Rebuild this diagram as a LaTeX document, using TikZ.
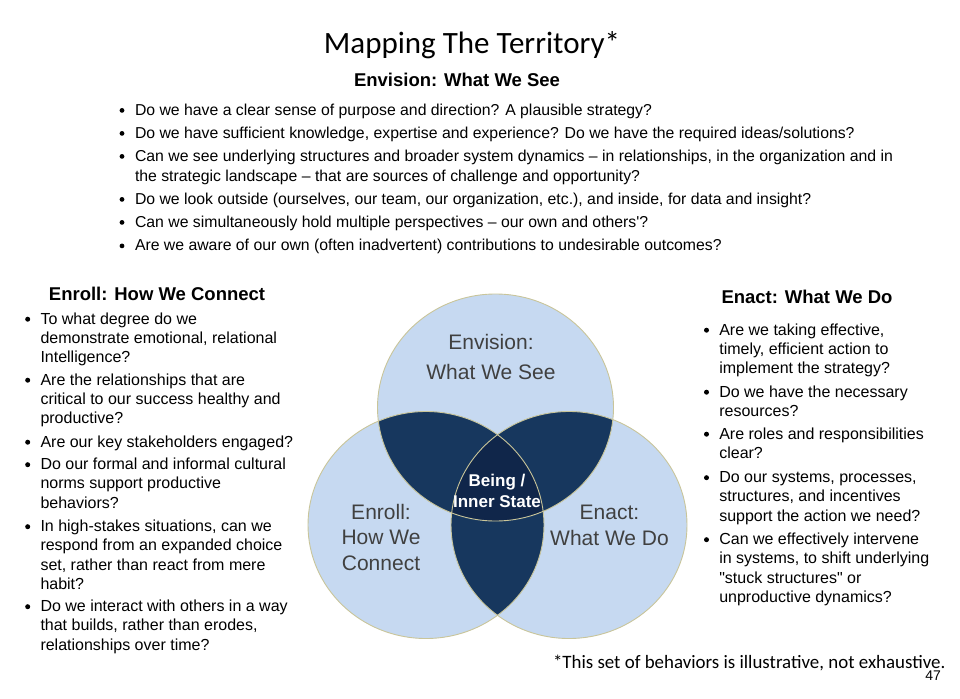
\documentclass[tikz,border=0pt]{standalone}
\usepackage{fontspec}
\setmainfont{Liberation Sans}[Ligatures=TeXOff]
\newfontfamily\calibri{Carlito}
\usepackage{xcolor}
\definecolor{vennlight}{HTML}{C6D9F1}
\definecolor{venndark}{HTML}{17375E}
\definecolor{venncore}{HTML}{10264A}
\definecolor{vennrim}{HTML}{C9C59A}
\definecolor{vennlabel}{HTML}{404040}

\begin{document}
\begin{tikzpicture}[x=1pt,y=-1pt,
	every node/.style={inner sep=0pt,outer sep=0pt},
	toplist/.style={anchor=base west,align=left,font=\fontsize{15.8}{20}\selectfont},
	sidelist/.style={anchor=base west,align=left,font=\fontsize{16}{19.3}\selectfont},
	head/.style={anchor=base,font=\fontsize{18.5}{22}\selectfont\bfseries},
	ring/.style={x radius=118pt,y radius=113.5pt},
	vlabel/.style={anchor=base,align=center,text=vennlabel}]
	\useasboundingbox (0,0) rectangle (960,698);
	\node[anchor=base,font=\fontsize{31}{36}\calibri] (title) at (472,54) {Mapping The Territory*};
	\node[head] (envhead) at (457,86.5) {Envision: What We See};
	\node[toplist] (env1) at (135,115) {Do we have a clear sense of purpose and direction? A plausible strategy?};
	\node[toplist] (env2) at (135,138) {Do we have sufficient knowledge, expertise and experience? Do we have the required ideas/solutions?};
	\node[toplist] (env3) at (135,181) {Can we see underlying structures and broader system dynamics – in relationships, in the organization and in\\the strategic landscape – that are sources of challenge and opportunity?};
	\node[toplist] (env4) at (135,204) {Do we look outside (ourselves, our team, our organization, etc.), and inside, for data and insight?};
	\node[toplist] (env5) at (135,227) {Can we simultaneously hold multiple perspectives – our own and others'?};
	\node[toplist] (env6) at (135,250.5) {Are we aware of our own (often inadvertent) contributions to undesirable outcomes?};
	\node[head] (rollhead) at (157,300.5) {Enroll: How We Connect};
	\node[sidelist] (roll1) at (40.5,362.6) {To what degree do we\\demonstrate emotional, relational\\Intelligence?};
	\node[sidelist] (roll2) at (40.5,423.6) {Are the relationships that are\\critical to our success healthy and\\productive?};
	\node[sidelist] (roll3) at (40.5,447) {Are our key stakeholders engaged?};
	\node[sidelist] (roll4) at (40.5,508.1) {Do our formal and informal cultural\\norms support productive\\behaviors?};
	\node[sidelist] (roll5) at (40.5,589.4) {In high-stakes situations, can we\\respond from an expanded choice\\set, rather than react from mere\\habit?};
	\node[sidelist] (roll6) at (40.5,650.1) {Do we interact with others in a way\\that builds, rather than erodes,\\relationships over time?};
	\node[head] (acthead) at (807,303.5) {Enact: What We Do};
	\node[sidelist] (act1) at (719.3,373.6) {Are we taking effective,\\timely, efficient action to\\implement the strategy?};
	\node[sidelist] (act2) at (719.3,416.3) {Do we have the necessary\\resources?};
	\node[sidelist] (act3) at (719.3,458.3) {Are roles and responsibilities\\clear?};
	\node[sidelist] (act4) at (719.3,521.1) {Do our systems, processes,\\structures, and incentives\\support the action we need?};
	\node[sidelist] (act5) at (719.3,602.4) {Can we effectively intervene\\in systems, to shift underlying\\"stuck structures" or\\unproductive dynamics?};
	\foreach \n/\k in {env1/0,env2/0,env3/1,env4/0,env5/0,env6/0}
		\fill ([xshift=-13pt,yshift=4.6pt+\k*20pt]\n.base west) circle (2.4pt);
	\foreach \n/\k in {roll1/2,roll2/2,roll3/0,roll4/2,roll5/3,roll6/2,act1/2,act2/1,act3/1,act4/2,act5/3}
		\fill ([xshift=-12.8pt,yshift=4.8pt+\k*19.3pt]\n.base west) circle (2.5pt);
	\coordinate (cE) at (495.5,407.5);
	\coordinate (cL) at (426,525);
	\coordinate (cR) at (569,525);
	\foreach \c in {cE,cL,cR}
		\fill[vennlight,ring] (\c) circle[];
	\begin{scope}
		\clip[ring] (cE) circle[];
		\fill[venndark,ring] (cL) circle[];
		\fill[venndark,ring] (cR) circle[];
	\end{scope}
	\begin{scope}
		\clip[ring] (cL) circle[];
		\fill[venndark,ring] (cR) circle[];
	\end{scope}
	\begin{scope}
		\clip[ring] (cE) circle[];
		\clip[ring] (cL) circle[];
		\fill[venncore,ring] (cR) circle[];
	\end{scope}
	\foreach \c in {cE,cL,cR}
		\draw[vennrim,line width=0.9pt,ring] (\c) circle[];
	\node[vlabel,font=\fontsize{21}{30}\selectfont] (envision) at (491,379) {Envision:\\What We See};
	\node[vlabel,font=\fontsize{21}{25.5}\selectfont] (enroll) at (381,570) {Enroll:\\How We\\Connect};
	\node[vlabel,font=\fontsize{21}{26}\selectfont] (enact) at (609.5,545) {Enact:\\What We Do};
	\node[anchor=base,align=center,text=white,font=\fontsize{17}{21.5}\selectfont\bfseries] (being) at (497,507.5) {Being /\\Inner State};
	\node[anchor=base west,font=\fontsize{18.9}{22}\calibri] (note) at (553,668.3) {*This set of behaviors is illustrative, not exhaustive.};
	\node[anchor=base east,font=\fontsize{14}{16}\selectfont] (pagenum) at (941,680) {47};
\end{tikzpicture}
\end{document}
